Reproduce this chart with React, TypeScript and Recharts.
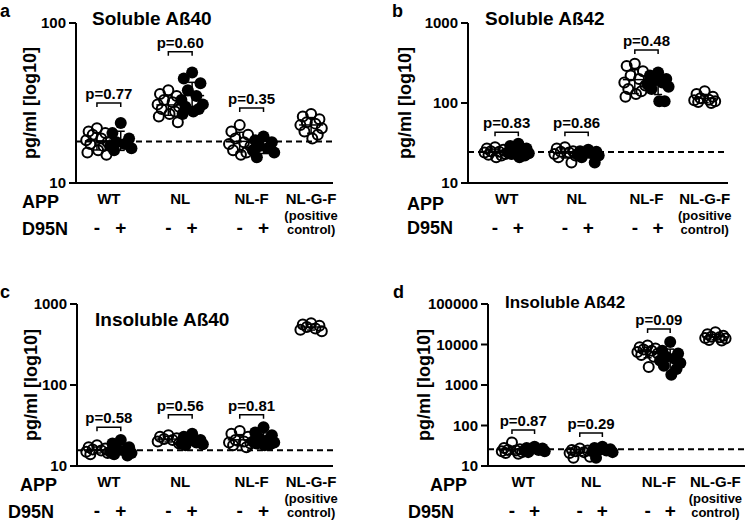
import React from 'react';
import { ScatterChart, Scatter, XAxis, YAxis, ReferenceLine, ErrorBar } from 'recharts';

const FONT = '"Liberation Sans", Arial, Helvetica, sans-serif';

// x slots for the seven groups: WT-, WT+, NL-, NL+, NL-F-, NL-F+, NL-G-F
const slots = [0, 1, 3, 4, 6, 7, 9];
const filledGroups = [false, true, false, true, false, true, false];
const signs = ['-', '+', '-', '+', '-', '+', ''];
const groupNames = ['WT', 'NL', 'NL-F', 'NL-G-F'];
const groupCenters = [0.5, 3.5, 6.5, 9];
const pairSlots = [[0, 1], [3, 4], [6, 7]];
// beeswarm spread inside one group (x units)
const jitter = [0, -0.35, 0.35, -0.18, 0.18, -0.45, 0.45, -0.28, 0.28, 0.05, -0.4, 0.4];

// a: Soluble Aß40
const solubleAb40 = [
  [22, 21, 20.5, 20, 19, 18.5, 18, 17.5, 17, 16, 15.5, 15],
  [23.7, 20.5, 19, 18, 17.5, 17, 16.5, 16],
  [38, 36, 35, 33, 32, 31, 30, 29, 28, 27, 26, 24],
  [49, 45, 42, 38, 35, 33, 31, 30, 29, 28, 27],
  [23, 21, 20, 19, 18, 17.5, 17, 16, 15.5, 15],
  [19.5, 18.5, 18, 17, 16.5, 16, 15.5, 14.5],
  [27, 26, 25, 24, 23.5, 23, 22, 21, 20, 19],
];
const solubleAb40P = ['p=0.77', 'p=0.60', 'p=0.35'];
const solubleAb40Brackets = [31.6, 66, 29.4];

// b: Soluble Aß42
const solubleAb42 = [
  [28, 27, 26, 25, 24.5, 24, 23, 22.5, 22, 21],
  [31, 29, 27, 26, 25, 24, 23.5, 23, 22, 21],
  [28, 27, 25, 24.5, 24, 23, 22, 21, 18],
  [26, 25, 24.5, 24, 23.5, 23, 22, 21, 18],
  [310, 290, 250, 220, 200, 180, 165, 150, 140, 130, 120],
  [240, 220, 200, 190, 180, 170, 160, 150, 105, 105],
  [140, 130, 120, 115, 110, 108, 105, 103, 100],
];
const solubleAb42P = ['p=0.83', 'p=0.86', 'p=0.48'];
const solubleAb42Brackets = [43, 43, 459];

// c: Insoluble Aß40
const insolubleAb40 = [
  [18, 17, 16.5, 16, 15.5, 15, 14.5, 14],
  [21, 19, 17, 16, 15.5, 15, 14.5, 14, 13.5],
  [24, 23, 22, 21.5, 21, 20, 19],
  [25, 23, 21, 20, 19.5, 19, 18.5, 18],
  [27, 25, 23, 21, 20, 19.5, 19, 18, 17],
  [30, 26, 24, 22, 21, 20, 19.5, 19, 18.5, 18],
  [580, 560, 540, 520, 500, 480, 460],
];
const insolubleAb40P = ['p=0.58', 'p=0.56', 'p=0.81'];
const insolubleAb40Brackets = [30, 43, 43];

// d: Insoluble Aß42
const insolubleAb42 = [
  [38, 28, 26, 25, 24, 23, 22, 21, 20],
  [30, 28, 27, 26, 25, 24, 23, 22],
  [27, 25, 24, 23, 22, 21, 17, 16],
  [30, 28, 26, 25, 24, 23, 22, 16],
  [9500, 8500, 8000, 7500, 7000, 6500, 6000, 5500, 5000, 2800],
  [11500, 7000, 6000, 5000, 4500, 4000, 3500, 3000, 2500, 1800],
  [20000, 18000, 16500, 15500, 15000, 14500, 14000, 13000, 12500],
];
const insolubleAb42P = ['p=0.87', 'p=0.29', 'p=0.09'];
const insolubleAb42Brackets = [77, 65, 24000];

const cutoffs = [18.2, 24.4, 15.7, 26];

const openShape = (p: any) => <circle cx={p.cx} cy={p.cy} r={5} fill="none" stroke="#000" strokeWidth={2} />;
const filledShape = (p: any) => <circle cx={p.cx} cy={p.cy} r={6} fill="#000" />;
const meanShape = (p: any) => (
  <line x1={p.cx - 12} x2={p.cx + 12} y1={p.cy} y2={p.cy} stroke="#000" strokeWidth={1.5} />
);

const bracket = (label: string) => (p: any) => (
  <g>
    <path d={`M${p.x1},${p.y1 + 4}V${p.y1}H${p.x2}V${p.y2 + 4}`} fill="none" stroke="#000" strokeWidth={1.5} />
    <text x={(p.x1 + p.x2) / 2} y={p.y1 - 4} textAnchor="middle" fontFamily={FONT} fontWeight="bold" fontSize={15}>
      {label}
    </text>
  </g>
);

const GroupTick = (props: any) => {
  const { x, y, payload } = props;
  const v = payload.value;
  const gi = groupCenters.indexOf(v);
  const si = slots.indexOf(v);
  return (
    <g fontFamily={FONT} fontWeight="bold" fill="#000">
      {gi >= 0 && (
        <text x={x} y={y + 21} textAnchor="middle" fontSize={15}>{groupNames[gi]}</text>
      )}
      {gi === 3 && (
        <>
          <text x={x} y={y + 37} textAnchor="middle" fontSize={13}>(positive</text>
          <text x={x} y={y + 51} textAnchor="middle" fontSize={13}>control)</text>
        </>
      )}
      {si >= 0 && signs[si] && (
        <text x={x} y={y + 51} textAnchor="middle" fontSize={19}>{signs[si]}</text>
      )}
    </g>
  );
};

interface PanelProps {
  groups: number[][];
  pLabels: string[];
  brackets: number[];
  cutoff: number;
  yDomain: [number, number];
  yTicks: number[];
  xDomain: [number, number];
  left: number;
  top: number;
  margin: { top: number; right: number; bottom: number; left: number };
  yWidth: number;
  xHeight: number;
  labelX: number;
}

function Panel(p: PanelProps) {
  const open: { x: number; y: number }[] = [];
  const filled: { x: number; y: number }[] = [];
  p.groups.forEach((vals, i) => {
    vals.forEach((v, j) => {
      const pt = { x: slots[i] + jitter[j % jitter.length], y: v };
      (filledGroups[i] ? filled : open).push(pt);
    });
  });
  const means = p.groups.map((vals, i) => {
    const m = vals.reduce((s, v) => s + v, 0) / vals.length;
    const sd = Math.sqrt(vals.reduce((s, v) => s + (v - m) ** 2, 0) / (vals.length - 1));
    return { x: slots[i], y: m, err: sd };
  });

  return (
    <div style={{ position: 'absolute', left: p.left, top: p.top }}>
      <ScatterChart width={375} height={261} margin={p.margin}>
        <XAxis
          type="number"
          dataKey="x"
          domain={p.xDomain}
          allowDataOverflow
          ticks={[0, 0.5, 1, 3, 3.5, 4, 6, 6.5, 7, 9]}
          interval={0}
          tickLine={false}
          tickSize={0}
          tickMargin={0}
          height={p.xHeight}
          axisLine={{ stroke: '#000', strokeWidth: 2 }}
          tick={<GroupTick />}
        />
        <YAxis
          type="number"
          dataKey="y"
          scale="log"
          domain={p.yDomain}
          allowDataOverflow
          ticks={p.yTicks}
          interval={0}
          width={p.yWidth}
          tickSize={7}
          tickMargin={3}
          axisLine={{ stroke: '#000', strokeWidth: 2 }}
          tickLine={{ stroke: '#000', strokeWidth: 2 }}
          tick={{ fontFamily: FONT, fontWeight: 'bold', fontSize: 15, fill: '#000' }}
          label={{
            value: 'pg/ml [log10]',
            angle: -90,
            position: 'insideLeft',
            offset: p.labelX,
            style: { textAnchor: 'middle', fontFamily: FONT, fontWeight: 'bold', fontSize: 18, fill: '#000' },
          }}
        />
        <ReferenceLine y={p.cutoff} stroke="#000" strokeWidth={2} strokeDasharray="6 4" />
        <Scatter data={open} shape={openShape} isAnimationActive={false} />
        <Scatter data={filled} shape={filledShape} isAnimationActive={false} />
        <Scatter data={means} shape={meanShape} isAnimationActive={false}>
          <ErrorBar dataKey="err" direction="y" width={4} stroke="#000" strokeWidth={1.5} />
        </Scatter>
        {pairSlots.map(([a, b], k) => (
          <ReferenceLine
            key={k}
            segment={[{ x: a, y: p.brackets[k] }, { x: b, y: p.brackets[k] }]}
            shape={bracket(p.pLabels[k])}
          />
        ))}
      </ScatterChart>
    </div>
  );
}

const txt = { fontFamily: FONT, fontWeight: 'bold' as const, fill: '#000' };

export default function App() {
  return (
    <div style={{ position: 'absolute', left: 0, top: 0, width: 750, height: 522, background: '#fff' }}>
      <Panel
        groups={solubleAb40}
        pLabels={solubleAb40P}
        brackets={solubleAb40Brackets}
        cutoff={cutoffs[0]}
        yDomain={[10, 100]}
        yTicks={[10, 100]}
        xDomain={[-0.88, 9.92]}
        left={0}
        top={0}
        margin={{ top: 23, right: 42, bottom: 8, left: 0 }}
        yWidth={76}
        xHeight={70}
        labelX={30}
      />
      <Panel
        groups={solubleAb42}
        pLabels={solubleAb42P}
        brackets={solubleAb42Brackets}
        cutoff={cutoffs[1]}
        yDomain={[10, 1000]}
        yTicks={[10, 100, 1000]}
        xDomain={[-1.16, 10.0]}
        left={375}
        top={0}
        margin={{ top: 23, right: 22, bottom: 8, left: 0 }}
        yWidth={93}
        xHeight={70}
        labelX={30}
      />
      <Panel
        groups={insolubleAb40}
        pLabels={insolubleAb40P}
        brackets={insolubleAb40Brackets}
        cutoff={cutoffs[2]}
        yDomain={[10, 1000]}
        yTicks={[10, 100, 1000]}
        xDomain={[-0.84, 9.92]}
        left={0}
        top={261}
        margin={{ top: 43, right: 42, bottom: 6, left: 0 }}
        yWidth={77}
        xHeight={50}
        labelX={31}
      />
      <Panel
        groups={insolubleAb42}
        pLabels={insolubleAb42P}
        brackets={insolubleAb42Brackets}
        cutoff={cutoffs[3]}
        yDomain={[10, 100000]}
        yTicks={[10, 100, 1000, 10000, 100000]}
        xDomain={[-1.06, 10.31]}
        left={375}
        top={261}
        margin={{ top: 43, right: 5, bottom: 6, left: 0 }}
        yWidth={113}
        xHeight={50}
        labelX={49}
      />
      <svg width={750} height={522} style={{ position: 'absolute', left: 0, top: 0, pointerEvents: 'none' }}>
        <text x={0} y={17} fontSize={18} {...txt}>a</text>
        <text x={392} y={17} fontSize={18} {...txt}>b</text>
        <text x={0} y={298} fontSize={18} {...txt}>c</text>
        <text x={393} y={298} fontSize={18} {...txt}>d</text>

        <text x={92} y={25} fontSize={19} {...txt}>Soluble Aß40</text>
        <text x={485} y={25} fontSize={19} {...txt}>Soluble Aß42</text>
        <text x={95} y={326} fontSize={19} {...txt}>Insoluble Aß40</text>
        <text x={505} y={308} fontSize={17} {...txt}>Insoluble Aß42</text>

        <text x={22} y={208} fontSize={18} {...txt}>APP</text>
        <text x={22} y={235} fontSize={18} {...txt}>D95N</text>
        <text x={407} y={210} fontSize={18} {...txt}>APP</text>
        <text x={407} y={234} fontSize={18} {...txt}>D95N</text>
        <text x={20} y={491} fontSize={18} {...txt}>APP</text>
        <text x={8} y={518} fontSize={18} {...txt}>D95N</text>
        <text x={430} y={491} fontSize={18} {...txt}>APP</text>
        <text x={408} y={518} fontSize={18} {...txt}>D95N</text>
      </svg>
    </div>
  );
}
